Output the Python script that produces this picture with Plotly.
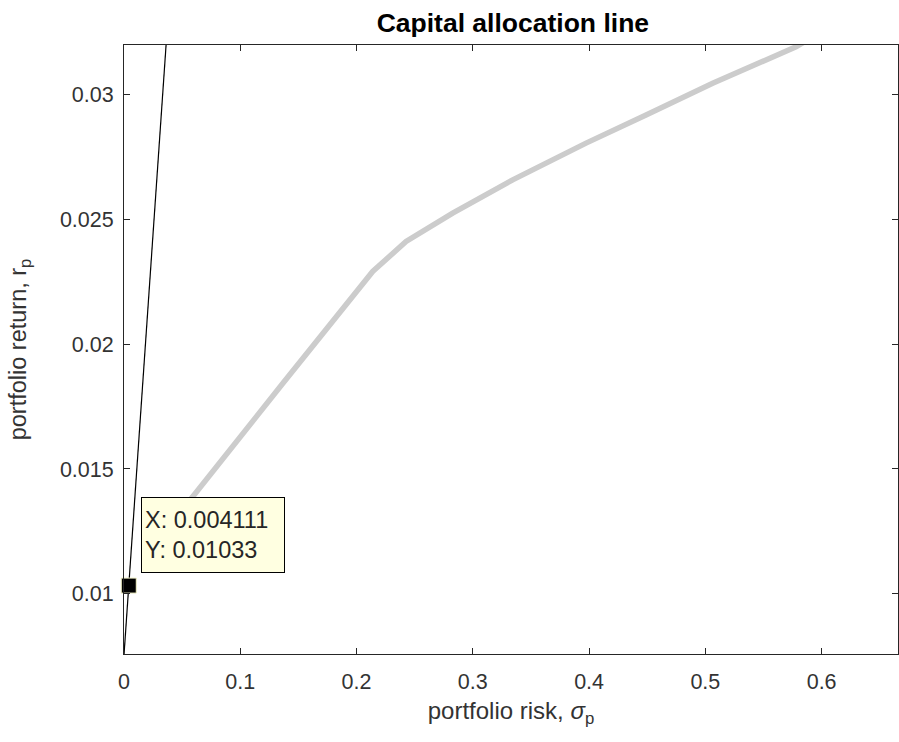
import plotly.graph_objects as go

# Efficient frontier
frontier_risk = [0.040, 0.0606, 0.137, 0.2139, 0.2426, 0.2827, 0.3343, 0.3974, 0.449, 0.5063, 0.578, 0.585]
frontier_ret = [0.0128, 0.01398, 0.01845, 0.02291, 0.02411, 0.02525, 0.02658, 0.02805, 0.02918, 0.03045, 0.03191, 0.0321]

# Capital allocation line
cal_risk = [0.0, 0.05]
cal_ret = [0.00755, 0.0413]

# Data tip
tip_risk = [0.004111]
tip_ret = [0.01033]

x_ticks = [0, 0.1, 0.2, 0.3, 0.4, 0.5, 0.6]
x_ticklabels = ["0", "0.1", "0.2", "0.3", "0.4", "0.5", "0.6"]
y_ticks = [0.01, 0.015, 0.02, 0.025, 0.03]
y_ticklabels = ["0.01", "0.015", "0.02", "0.025", "0.03"]

FONT = "Liberation Sans, Arial, Helvetica, sans-serif"
AX = "#262626"

fig = go.Figure()
fig.add_trace(go.Scatter(x=frontier_risk, y=frontier_ret, mode="lines",
                         line=dict(color="#cccccc", width=5.5), hoverinfo="skip"))
fig.add_trace(go.Scatter(x=cal_risk, y=cal_ret, mode="lines",
                         line=dict(color="black", width=1.2), hoverinfo="skip"))
fig.add_trace(go.Scatter(x=tip_risk, y=tip_ret, mode="markers", cliponaxis=False,
                         marker=dict(symbol="square", size=15, color="black",
                                     line=dict(color="#f2f2c8", width=1)),
                         hoverinfo="skip"))

fig.add_annotation(x=0.0142, y=0.01387, xref="x", yref="y", xanchor="left", yanchor="top",
                   text="X: %s<br>Y: %s" % (f"{tip_risk[0]:g}", f"{tip_ret[0]:.4g}"),
                   showarrow=False, align="left", bgcolor="#ffffe1",
                   bordercolor="black", borderwidth=1, borderpad=3,
                   width=136, height=68,
                   font=dict(family=FONT, size=23.5, color="#262626"))

axis_common = dict(showgrid=False, zeroline=False, showline=True, linecolor=AX, linewidth=1,
                   mirror="ticks", ticks="inside", ticklen=6, tickcolor=AX, tickwidth=1,
                   tickfont=dict(family=FONT, size=21.5, color="#333333"))

fig.update_layout(
    width=899, height=742,
    margin=dict(l=124, r=1, t=45, b=88),
    plot_bgcolor="white", paper_bgcolor="white",
    showlegend=False,
    title=dict(text="<b>Capital allocation line</b>", x=0.5705, xanchor="center",
               y=0.97, yanchor="middle",
               font=dict(family=FONT, size=26.5, color="black")),
    xaxis=dict(range=[0, 0.6657], tickvals=x_ticks, ticktext=x_ticklabels,
               ticklabelstandoff=8,
               title=dict(text="portfolio risk, <i>σ</i><sub>p</sub>", standoff=9,
                          font=dict(family=FONT, size=24, color="#333333")),
               **axis_common),
    yaxis=dict(range=[0.00759, 0.03198], tickvals=y_ticks, ticktext=y_ticklabels,
               ticklabelstandoff=5,
               title=dict(text="portfolio return, r<sub>p</sub>", standoff=26,
                          font=dict(family=FONT, size=23.5, color="#333333")),
               **axis_common),
)

fig.write_html("out.html")
